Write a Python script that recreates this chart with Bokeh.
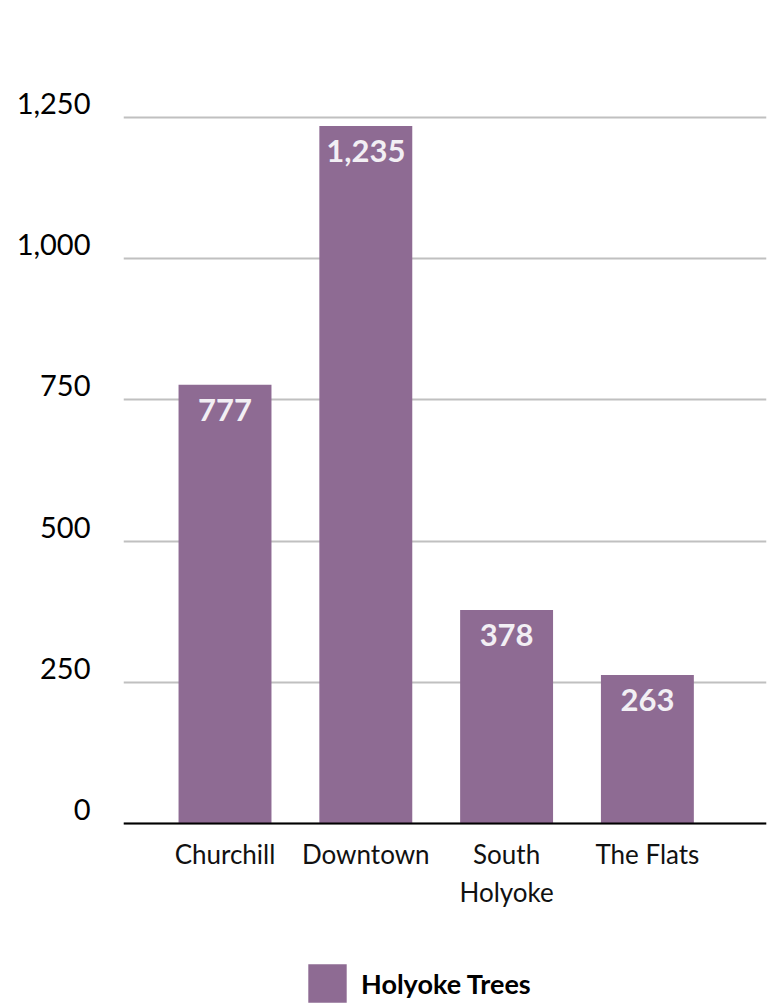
from bokeh.plotting import figure
from bokeh.models import (Range1d, LinearAxis, FixedTicker, NumeralTickFormatter,
                          Legend, LegendItem, ColumnDataSource)
from bokeh.core.properties import value
from bokeh.embed import file_html
from bokeh.resources import INLINE

# ---- data ----
categories = ["Churchill", "Downtown", "South Holyoke", "The Flats"]
axis_labels = ["Churchill", "Downtown", "South\nHolyoke", "The Flats"]
trees = [777, 1235, 378, 263]
bar_labels = ["777", "1,235", "378", "263"]
y_ticks = [0, 250, 500, 750, 1000, 1250]
series_name = "Holyoke Trees"

# ---- style ----
BAR = "#8E6B93"
FONT = "Lato"
W, H = 769, 1007
LEFT, RIGHT, TOP = 123, 3, 28
ZERO_PX = 823                 # pixel row of value 0
px_per_unit = 706 / 1250
y_start = -(H - ZERO_PX) / px_per_unit
y_end = (ZERO_PX - TOP) / px_per_unit
x_start, x_end = -0.721, 3.846

p = figure(width=W, height=H, output_backend="svg", toolbar_location=None,
           x_range=Range1d(x_start, x_end), y_range=Range1d(y_start, y_end),
           min_border_left=LEFT, min_border_right=RIGHT, min_border_top=TOP,
           min_border_bottom=0)
p.outline_line_color = None
p.background_fill_color = "white"
p.border_fill_color = "white"

xs = list(range(len(categories)))
src = ColumnDataSource(dict(x=xs, top=trees, label=bar_labels, name=categories))

r = p.vbar(x="x", top="top", width=0.66, source=src, fill_color=BAR, line_color=None)
p.text(x="x", y="top", text="label", source=src, text_font=value(FONT),
       text_font_style="bold", text_font_size="31px", text_color="#F2EFF4",
       text_align="center", text_baseline="middle", y_offset=25)

# grid
p.xgrid.visible = False
p.ygrid.ticker = FixedTicker(ticks=y_ticks)
p.ygrid.grid_line_color = "#C0C0C0"
p.ygrid.grid_line_width = 2

# main y axis hidden; label axis shifted up a bit
p.yaxis.visible = False
shift = 14 / px_per_unit
p.extra_y_ranges = {"lab": Range1d(y_start - shift, y_end - shift)}
ax = LinearAxis(y_range_name="lab", ticker=FixedTicker(ticks=y_ticks),
                formatter=NumeralTickFormatter(format="0,0"),
                axis_line_color=None, major_tick_line_color=None,
                minor_tick_line_color=None, major_tick_out=0, major_tick_in=0,
                minor_tick_out=0, major_label_standoff=33,
                major_label_text_font=FONT, major_label_text_font_size="29px",
                major_label_text_color="black")
p.add_layout(ax, "left")

# x axis drawn at value 0
xa = p.xaxis[0]
xa.fixed_location = 0
xa.ticker = FixedTicker(ticks=xs)
xa.major_label_overrides = {i: lbl for i, lbl in zip(xs, axis_labels)}
xa.axis_line_color = "black"
xa.axis_line_width = 2
xa.major_tick_line_color = None
xa.minor_tick_line_color = None
xa.major_tick_out = 0
xa.major_tick_in = 0
xa.minor_tick_out = 0
xa.major_label_standoff = 14
xa.major_label_text_font = FONT
xa.major_label_text_font_size = "26px"
xa.major_label_text_color = "#111111"

legend = Legend(items=[LegendItem(label=series_name, renderers=[r])],
                location=(180, 0), glyph_width=48, glyph_height=48,
                label_standoff=10, label_text_font=FONT, label_text_font_style="bold",
                label_text_font_size="27px", label_text_color="black",
                border_line_color=None, background_fill_alpha=0,
                padding=0, spacing=0, margin=0)
p.add_layout(legend, "center")

open("out.html", "w").write(file_html(p, INLINE))
